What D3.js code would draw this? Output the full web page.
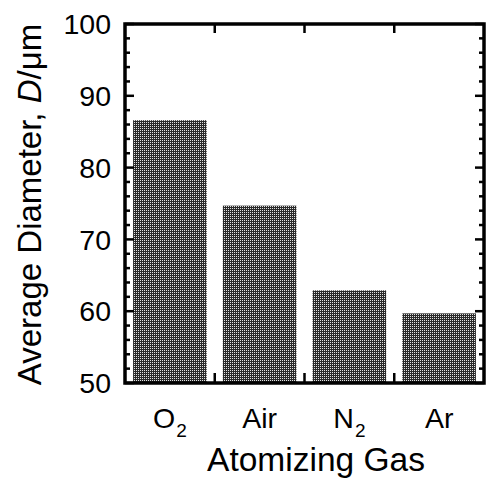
<!DOCTYPE html>
<html>
<head>
<meta charset="utf-8">
<script src="https://cdn.jsdelivr.net/npm/d3@7"></script>
<style>
  body { margin: 0; background: #fff; }
  svg text { font-family: "Liberation Sans", Arial, Helvetica, sans-serif; fill: #000; }
</style>
</head>
<body>
<script>
// data
var gases = ["O", "Air", "N", "Ar"];
var subs = ["2", "", "2", ""];
var diameters = [86.6, 74.7, 62.9, 59.7];
var yTicks = [50, 60, 70, 80, 90, 100];

var width = 486, height = 479;
var margin = {top: 24, right: 2, bottom: 96, left: 125};

var svg = d3.select("body").append("svg")
    .attr("width", width)
    .attr("height", height);

// stippled fill like the print
var pat = svg.append("defs").append("pattern")
    .attr("id", "dots")
    .attr("patternUnits", "userSpaceOnUse")
    .attr("width", 2).attr("height", 2);
pat.append("rect").attr("width", 2).attr("height", 2).attr("fill", "#2a2a2a");
pat.append("rect").attr("width", 1).attr("height", 1).attr("fill", "#e2e2e2");

var x = d3.scaleBand()
    .domain(gases)
    .range([margin.left, width - margin.right])
    .paddingInner(0.18)
    .paddingOuter(0.09);

var y = d3.scaleLinear()
    .domain([50, 100])
    .range([height - margin.bottom, margin.top]);

var x0 = margin.left, x1 = width - margin.right;
var y0 = height - margin.bottom, y1 = margin.top;

// bars
svg.append("g")
  .selectAll("rect")
  .data(gases)
  .enter().append("rect")
    .attr("x", function(d) { return x(d); })
    .attr("y", function(d, i) { return y(diameters[i]); })
    .attr("width", x.bandwidth())
    .attr("height", function(d, i) { return y0 - y(diameters[i]); })
    .attr("fill", "url(#dots)");

// minor ticks every 2 units, both sides, inward
var minor = d3.range(52, 100, 2).filter(function(v) { return v % 10 != 0; });
var tickG = svg.append("g").attr("stroke", "#000").attr("stroke-width", 2.5);
tickG.selectAll(".minL").data(minor).enter().append("line")
    .attr("x1", x0).attr("x2", x0 + 5)
    .attr("y1", function(d) { return y(d); }).attr("y2", function(d) { return y(d); });
tickG.selectAll(".minR").data(minor).enter().append("line")
    .attr("x1", x1).attr("x2", x1 - 5)
    .attr("y1", function(d) { return y(d); }).attr("y2", function(d) { return y(d); });
tickG.selectAll(".majL").data(yTicks).enter().append("line")
    .attr("x1", x0).attr("x2", x0 + 9)
    .attr("y1", function(d) { return y(d); }).attr("y2", function(d) { return y(d); });
tickG.selectAll(".majR").data(yTicks).enter().append("line")
    .attr("x1", x1).attr("x2", x1 - 9)
    .attr("y1", function(d) { return y(d); }).attr("y2", function(d) { return y(d); });

// category boundary ticks on top and bottom
var bounds = gases.slice(1).map(function(d) { return x(d) - x.step() * x.paddingInner() / 2; });
tickG.selectAll(".bt").data(bounds).enter().append("line")
    .attr("x1", function(d) { return d; }).attr("x2", function(d) { return d; })
    .attr("y1", y0).attr("y2", y0 - 10);
tickG.selectAll(".tt").data(bounds).enter().append("line")
    .attr("x1", function(d) { return d; }).attr("x2", function(d) { return d; })
    .attr("y1", y1).attr("y2", y1 + 9);

// frame
svg.append("rect")
    .attr("x", x0).attr("y", y1)
    .attr("width", x1 - x0).attr("height", y0 - y1)
    .attr("fill", "none")
    .attr("stroke", "#000")
    .attr("stroke-width", 3.5);

// y tick labels
svg.append("g").selectAll("text")
  .data(yTicks)
  .enter().append("text")
    .attr("x", 111)
    .attr("y", function(d) { return y(d); })
    .attr("dy", "0.36em")
    .attr("text-anchor", "end")
    .style("font-size", "28.5px")
    .text(function(d) { return d; });

// x category labels with subscripts
var cat = svg.append("g").selectAll("text")
  .data(gases)
  .enter().append("text")
    .attr("x", function(d) { return x(d) + x.bandwidth() / 2; })
    .attr("y", 428)
    .attr("text-anchor", "middle")
    .style("font-size", "28.5px");
cat.append("tspan").text(function(d) { return d; });
cat.append("tspan")
    .attr("dx", 1)
    .attr("dy", 9)
    .style("font-size", "19px")
    .text(function(d, i) { return subs[i]; });

// axis titles
svg.append("text")
    .attr("x", 316)
    .attr("y", 471)
    .attr("text-anchor", "middle")
    .style("font-size", "33.5px")
    .text("Atomizing Gas");

var yt = svg.append("text")
    .attr("transform", "translate(41," + ((y0 + y1) / 2 + 1) + ") rotate(-90)")
    .attr("text-anchor", "middle")
    .style("font-size", "33px");
yt.append("tspan").text("Average Diameter, ");
yt.append("tspan").style("font-style", "italic").text("D");
yt.append("tspan").text("/\u03bcm");
</script>
</body>
</html>
